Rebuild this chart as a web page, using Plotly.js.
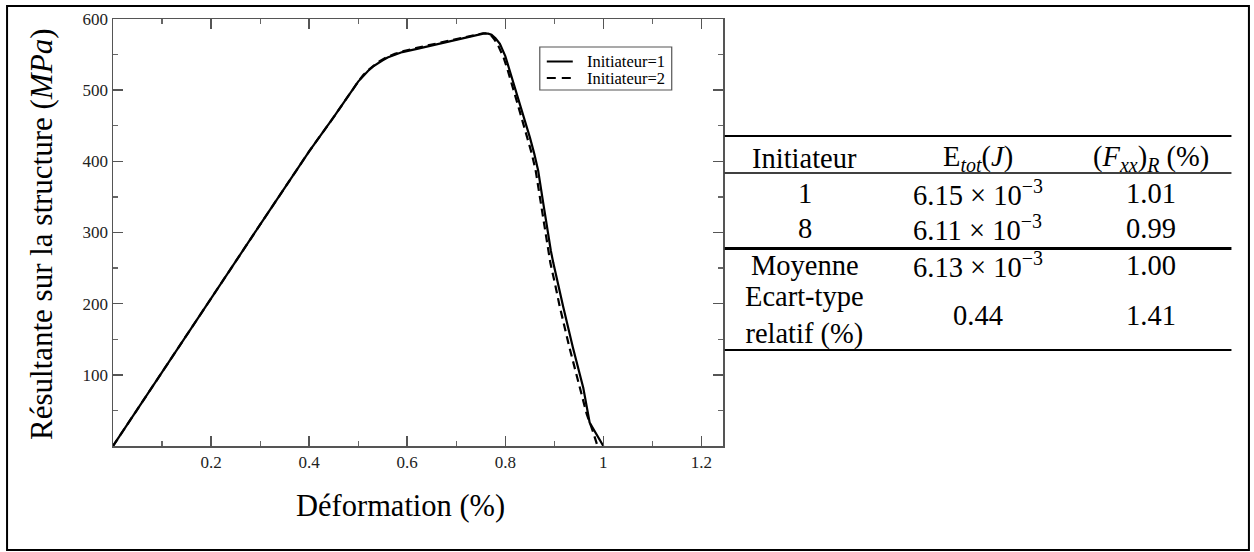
<!DOCTYPE html>
<html>
<head>
<meta charset="utf-8">
<script src="https://cdn.plot.ly/plotly-3.0.1.min.js"></script>
<style>html,body{margin:0;padding:0;background:#fff;}#chart{width:1254px;height:552px;}</style>
</head>
<body>
<div id="chart"></div>
<script>
// ---- Data ----
const strain1 = [0, 0.1, 0.2, 0.3, 0.4, 0.45, 0.5, 0.51, 0.52, 0.53, 0.54, 0.55, 0.56, 0.575, 0.59, 0.62, 0.653, 0.69, 0.721, 0.745, 0.755, 0.765, 0.772, 0.78, 0.789, 0.8, 0.809, 0.83, 0.85, 0.859, 0.867, 0.877, 0.887, 0.893, 0.898, 0.908, 0.918, 0.938, 0.959, 0.972, 0.986, 1.0];
const stress1 = [0, 104, 207, 311, 414, 462, 512, 520, 527, 533, 538, 542, 546, 550, 553.5, 558, 563, 569, 574, 578, 579.5, 579.5, 578, 573, 565, 548, 528, 481, 434, 411, 387, 343, 298, 274, 257, 226, 196, 138, 82, 33, 16, 0];
const strain2 = [0, 0.1, 0.2, 0.3, 0.4, 0.45, 0.5, 0.51, 0.52, 0.53, 0.54, 0.55, 0.56, 0.575, 0.59, 0.62, 0.653, 0.69, 0.721, 0.745, 0.755, 0.765, 0.77, 0.778, 0.786, 0.797, 0.805, 0.825, 0.845, 0.854, 0.862, 0.872, 0.882, 0.887, 0.892, 0.902, 0.911, 0.931, 0.952, 0.966, 0.979, 0.988];
const stress2 = [0, 104, 207, 311, 414, 462, 512, 521, 528, 534, 539, 543, 547, 551, 554.5, 559.5, 564.5, 570.5, 575.5, 579, 580, 580, 578, 571, 562, 545, 528, 481, 434, 411, 387, 343, 298, 274, 257, 226, 196, 138, 82, 45, 20, 0];
const seriesNames = ["Initiateur=1", "Initiateur=2"];

const xTickVals = [0.2, 0.4, 0.6, 0.8, 1.0, 1.2];
const xTickText = ["0.2", "0.4", "0.6", "0.8", "1", "1.2"];
const yTickVals = [100, 200, 300, 400, 500, 600];
const yTickText = ["100", "200", "300", "400", "500", "600"];

const xTitle = "Déformation (%)";
const yTitle = "Résultante sur la structure (<i>MPa</i>)";

// Table content
const tableHeader = ["Initiateur", "E<sub><i>tot</i></sub>(<i>J</i>)", "(<i>F</i><sub><i>xx</i></sub>)<sub><i>R</i></sub> (%)"];
const tableRows = [
  ["1", "6.15 × 10<sup>−3</sup>", "1.01"],
  ["8", "6.11 × 10<sup>−3</sup>", "0.99"]
];
const tableStats = [
  ["Moyenne", "6.13 × 10<sup>−3</sup>", "1.00"],
  ["Ecart-type<br>relatif (%)", "0.44", "1.41"]
];

// ---- Layout geometry (pixels) ----
const W = 1254, H = 552;
const L = 113, R = 723.3, T = 19, B = 446;
const pw = R - L, ph = B - T;
const px = x => (x - L) / pw;
const py = y => (B - y) / ph;

const serif = "Liberation Serif";
const bigSize = 28.5;
const tickFont = {family: serif, size: 17, color: "#222"};

const traces = [
  {x: strain1, y: stress1, name: seriesNames[0], mode: "lines", type: "scatter", showlegend: false,
   line: {color: "#000", width: 2.2}},
  {x: strain2, y: stress2, name: seriesNames[1], mode: "lines", type: "scatter", showlegend: false,
   line: {color: "#000", width: 2.2, dash: "8px,5px"}}
];

const shapes = [];
const annotations = [];
// outer frame
shapes.push({type: "rect", xref: "paper", yref: "paper", x0: px(7), x1: px(1249.5), y0: py(6), y1: py(550),
  line: {color: "#000", width: 2}, fillcolor: "rgba(0,0,0,0)"});

// legend box (manual, to match the reference's compact legend)
shapes.push({type: "rect", xref: "paper", yref: "paper", x0: px(540), x1: px(672), y0: py(47), y1: py(90),
  line: {color: "#555", width: 1.2}, fillcolor: "#fff"});
const legY = [61.5, 78];
const legDash = ["solid", "9px,6px"];
seriesNames.forEach((n, i) => {
  shapes.push({type: "line", xref: "paper", yref: "paper", x0: px(547), x1: px(573), y0: py(legY[i]), y1: py(legY[i]),
    line: {color: "#000", width: 2, dash: legDash[i]}});
  annotations.push({text: n, xref: "paper", yref: "paper", x: px(585), y: py(legY[i]), showarrow: false,
    xanchor: "left", yanchor: "middle", font: {family: serif, size: 16.5, color: "#000"}});
});

// table rules
const tL = 725, tR = 1232;
const hline = (y, w) => shapes.push({type: "line", xref: "paper", yref: "paper", x0: px(tL), x1: px(tR), y0: py(y), y1: py(y), line: {color: "#000", width: w}});
hline(136, 2);
hline(173, 1.6);
hline(248.5, 2.8);
hline(350, 2);

const colX = [805, 978, 1152];
const textAt = (txt, x, y) => annotations.push({text: txt, xref: "paper", yref: "paper", x: px(x), y: py(y),
  showarrow: false, xanchor: "center", yanchor: "middle", font: {family: serif, size: bigSize, color: "#000"}});
tableHeader.forEach((t, i) => textAt(t, colX[i], 158));
const rowY = [193, 228];
tableRows.forEach((r, j) => r.forEach((t, i) => textAt(t, colX[i], rowY[j])));
const statY = [265, 315];
tableStats.forEach((r, j) => r.forEach((t, i) => textAt(t, colX[i], statY[j])));

// axis titles
annotations.push({text: yTitle, xref: "paper", yref: "paper", x: px(41), y: py(234), textangle: -90,
  showarrow: false, xanchor: "center", yanchor: "middle", font: {family: serif, size: 31, color: "#000"}});
annotations.push({text: xTitle, xref: "paper", yref: "paper", x: px(401), y: py(506),
  showarrow: false, xanchor: "center", yanchor: "middle", font: {family: serif, size: 30.5, color: "#000"}});

const axisCommon = {
  showgrid: false, zeroline: false, showline: true, linecolor: "#555", linewidth: 1.5,
  mirror: "ticks", ticks: "inside", ticklen: 10, tickwidth: 1.5, tickcolor: "#555",
  tickfont: tickFont, tickmode: "array"
};

const layout = {
  width: W, height: H,
  margin: {l: L, r: W - R, t: T, b: H - B, pad: 0},
  paper_bgcolor: "#fff", plot_bgcolor: "#fff",
  showlegend: false,
  xaxis: Object.assign({}, axisCommon, {range: [0, 1.244], tickvals: xTickVals, ticktext: xTickText,
    minor: {ticks: "inside", ticklen: 5, tickwidth: 1.2, tickcolor: "#666", tickmode: "linear", tick0: 0, dtick: 0.1}}),
  yaxis: Object.assign({}, axisCommon, {range: [0, 600], tickvals: yTickVals, ticktext: yTickText,
    minor: {ticks: "inside", ticklen: 5, tickwidth: 1.2, tickcolor: "#666", tickmode: "linear", tick0: 0, dtick: 50}}),
  shapes: shapes,
  annotations: annotations
};

Plotly.newPlot("chart", traces, layout, {displayModeBar: false, staticPlot: true});
</script>
</body>
</html>
